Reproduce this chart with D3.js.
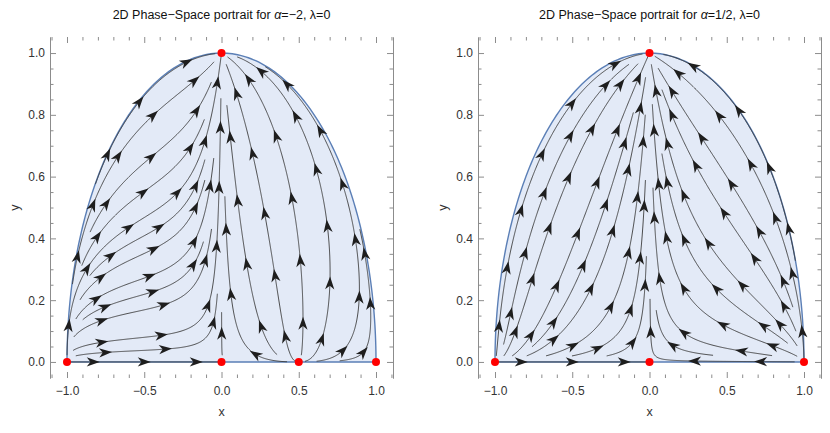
<!DOCTYPE html>
<html>
<head>
<meta charset="utf-8">
<script src="https://cdn.jsdelivr.net/npm/d3@7"></script>
<style>
body { margin: 0; background: #fff; }
text { font-family: "Liberation Sans", Arial, sans-serif; }
</style>
</head>
<body>
<svg id="chart" width="830" height="433"></svg>
<script>
// model parameters for the two panels
var alphas = [-2, 0.5];
var alphaLabels = ["\u22122", "1/2"];
var lambda = 0;

// critical points shown in red
var critPoints = [
    [[-1, 0], [0, 0], [0.5, 0], [1, 0], [0, 1]],
    [[-1, 0], [0, 0], [1, 0], [0, 1]]
];

// invariant axis streamline (y = 0) seed
var axisSeeds = [[[-0.5, 0]], [[-0.5, 0]]];

// ticks
var xMajor = [-1, -0.5, 0, 0.5, 1];
var xMinor = [-1.1, -0.9, -0.8, -0.7, -0.6, -0.4, -0.3, -0.2, -0.1,
              0.1, 0.2, 0.3, 0.4, 0.6, 0.7, 0.8, 0.9, 1.1];
var yMajor = [0, 0.2, 0.4, 0.6, 0.8, 1];
var yMinor = [0.05, 0.1, 0.15, 0.25, 0.3, 0.35, 0.45, 0.5, 0.55,
              0.65, 0.7, 0.75, 0.85, 0.9, 0.95];

var panelLeft = [50, 478],
    panelWidth = 343,
    frameTop = 37,
    frameBottom = 378;

var svg = d3.select("#chart");

// dx/dt, dy/dt :  x' = -3x + x*eps + ..., y' = y*eps - ...
function field(a, x, y) {
    var r = 1 - x * x - y * y;
    var c = lambda * Math.sqrt(1.5);
    var eps = 1.5 * (1 + x * x - y * y) - 1.5 * a * x * r;
    return [-3 * x + x * eps + c * y * y, y * eps - c * x * y];
}

function streamlines(a, sx, sy, seeds) {
    var kx = sx(1) - sx(0), ky = sy(0) - sy(1);
    var dsep = 16, dtest = 6, cell = dsep;
    var grid = {}, lines = [], queue = [];

    function toS(p) { return [sx(p[0]), sy(p[1])]; }
    function blocked(p, d) {
        var s = toS(p), i = Math.floor(s[0] / cell), j = Math.floor(s[1] / cell);
        for (var di = -1; di <= 1; di++) for (var dj = -1; dj <= 1; dj++) {
            var c = grid[(i + di) + "," + (j + dj)];
            if (!c) continue;
            for (var n = 0; n < c.length; n++) {
                var dx = c[n][0] - s[0], dy = c[n][1] - s[1];
                if (dx * dx + dy * dy < d * d) return true;
            }
        }
        return false;
    }
    function add(p) {
        var s = toS(p);
        var k = Math.floor(s[0] / cell) + "," + Math.floor(s[1] / cell);
        (grid[k] || (grid[k] = [])).push(s);
    }
    function inside(p) { return p[0] * p[0] + p[1] * p[1] <= 1.00005 && p[1] >= 0; }
    function dir(p) {
        var f = field(a, p[0], p[1]);
        var sp = Math.hypot(f[0], f[1]);
        if (sp < 2e-3) return null;
        var u = f[0] * kx, v = f[1] * ky, m = Math.hypot(u, v);
        return [u / m / kx, v / m / ky, sp];
    }
    function trace(p0, sgn) {
        var out = [], p = p0, prev = null;
        for (var n = 0; n < 2500; n++) {
            var d1 = dir(p); if (!d1) break;
            var mid = [p[0] + sgn * d1[0] * 0.5, p[1] + sgn * d1[1] * 0.5];
            var d2 = dir(mid); if (!d2) break;
            var q = [p[0] + sgn * d2[0], p[1] + sgn * d2[1]];
            if (!inside(q)) break;
            if (prev && d2[0] * prev[0] * kx * kx + d2[1] * prev[1] * ky * ky < 0.7) break;
            if (blocked(q, dtest)) break;
            out.push(q); prev = d2; p = q;
        }
        return out;
    }
    function tryLine(p, explicit) {
        if (!inside(p)) return;
        if (!explicit && (p[1] < 0.004 || p[0] * p[0] + p[1] * p[1] > 0.998)) return;
        if (!dir(p)) return;
        if (blocked(p, explicit ? dtest : dsep)) return;
        var b = trace(p, -1), f = trace(p, 1);
        var pts = b.reverse().concat([p], f);
        pts.forEach(add);
        lines.push(pts); queue.push(pts);
    }
    function flush() {
        while (queue.length) {
            var L = queue.shift();
            for (var k = 2; k < L.length - 2; k += 3) {
                var a0 = toS(L[k - 2]), a1 = toS(L[k + 2]);
                var tx = a1[0] - a0[0], ty = a1[1] - a0[1], tm = Math.hypot(tx, ty);
                if (!tm) continue;
                var nx = -ty / tm, ny = tx / tm, s = toS(L[k]);
                [-1, 1].forEach(function (sg) {
                    tryLine([sx.invert(s[0] + sg * dsep * nx), sy.invert(s[1] + sg * dsep * ny)], false);
                });
            }
        }
    }

    seeds.forEach(function (s) { tryLine(s, true); });
    tryLine([-0.4, 0.5], false);
    flush();
    for (var py = frameTop; py < frameBottom; py += 4)
        for (var px = sx.range()[0]; px < sx.range()[1]; px += 4) {
            tryLine([sx.invert(px), sy.invert(py)], false);
            flush();
        }
    return lines.filter(function (l) { return l.length > 6; });
}

function arrowPath(x, y, ux, uy, len, w) {
    var nx = -uy, ny = ux;
    var tip = [x + ux * len / 2, y + uy * len / 2];
    var bx = x - ux * len / 2, by = y - uy * len / 2;
    var notch = [bx + ux * len * 0.28, by + uy * len * 0.28];
    return "M" + tip + "L" + [bx + nx * w, by + ny * w] + "L" + notch +
        "L" + [bx - nx * w, by - ny * w] + "Z";
}

alphas.forEach(function (a, idx) {
    var x0 = panelLeft[idx];
    var sx = d3.scaleLinear().domain([-1.11, 1.11]).range([x0, x0 + panelWidth]);
    var sy = d3.scaleLinear().domain([-0.052, 1.052]).range([frameBottom, frameTop]);
    var g = svg.append("g");

    // region x^2 + y^2 <= 1, y >= 0
    var arc = d3.range(0, 181).map(function (t) {
        var r = t * Math.PI / 180;
        return [Math.cos(r), Math.sin(r)];
    });
    g.append("path")
        .datum(arc)
        .attr("d", d3.line().x(function (d) { return sx(d[0]); }).y(function (d) { return sy(d[1]); }).curve(d3.curveLinearClosed))
        .attr("fill", "#e3eaf7")
        .attr("stroke", "#5b7fb6")
        .attr("stroke-width", 1.4);

    // stream lines
    var lines = streamlines(a, sx, sy, axisSeeds[idx]);
    var line = d3.line().x(function (d) { return sx(d[0]); }).y(function (d) { return sy(d[1]); });
    g.append("g").selectAll("path")
        .data(lines)
        .enter().append("path")
        .attr("d", line)
        .attr("fill", "none")
        .attr("stroke", "#3a3a3a")
        .attr("stroke-width", 0.9);

    // arrow heads
    var heads = [];
    lines.forEach(function (l) {
        var s = l.map(function (p) { return [sx(p[0]), sy(p[1])]; });
        var cum = [0];
        for (var i = 1; i < s.length; i++)
            cum.push(cum[i - 1] + Math.hypot(s[i][0] - s[i - 1][0], s[i][1] - s[i - 1][1]));
        var L = cum[cum.length - 1];
        if (L < 14) return;
        var n = Math.max(1, Math.round(L / 58));
        for (var k = 0; k < n; k++) {
            var target = (k + 0.5) * L / n;
            var j = d3.bisectLeft(cum, target);
            var j0 = Math.max(0, j - 3), j1 = Math.min(s.length - 1, j + 3);
            var ux = s[j1][0] - s[j0][0], uy = s[j1][1] - s[j0][1], um = Math.hypot(ux, uy);
            if (!um) continue;
            heads.push({ x: s[j][0], y: s[j][1], ux: ux / um, uy: uy / um });
        }
    });
    g.append("g").selectAll("path")
        .data(heads)
        .enter().append("path")
        .attr("d", function (d) { return arrowPath(d.x, d.y, d.ux, d.uy, 13, 4.6); })
        .attr("fill", "#1e1e1e");

    // critical points
    g.selectAll("circle")
        .data(critPoints[idx])
        .enter().append("circle")
        .attr("cx", function (d) { return sx(d[0]); })
        .attr("cy", function (d) { return sy(d[1]); })
        .attr("r", 4)
        .attr("fill", "#ff0000");

    // frame and ticks
    var fmt = d3.format(".1f");
    function styleAxis(sel, keepDomain) {
        sel.selectAll("line").attr("stroke", "#8c8c8c");
        sel.select(".domain").attr("stroke", keepDomain ? "#8c8c8c" : "none");
        sel.selectAll("text").attr("fill", "#333").attr("font-size", 12)
            .attr("font-family", "'Liberation Sans', Arial, sans-serif");
    }
    var axB = g.append("g").attr("transform", "translate(0," + frameBottom + ")")
        .call(d3.axisBottom(sx).tickValues(xMajor).tickSize(-6).tickSizeOuter(0).tickPadding(8).tickFormat(fmt));
    styleAxis(axB, false);
    var axBm = g.append("g").attr("transform", "translate(0," + frameBottom + ")")
        .call(d3.axisBottom(sx).tickValues(xMinor).tickSize(-3.5).tickSizeOuter(0).tickFormat(""));
    styleAxis(axBm, false);
    var axT = g.append("g").attr("transform", "translate(0," + frameTop + ")")
        .call(d3.axisTop(sx).tickValues(xMajor).tickSize(-6).tickSizeOuter(0).tickFormat(""));
    styleAxis(axT, false);
    var axTm = g.append("g").attr("transform", "translate(0," + frameTop + ")")
        .call(d3.axisTop(sx).tickValues(xMinor).tickSize(-3.5).tickSizeOuter(0).tickFormat(""));
    styleAxis(axTm, false);
    var axL = g.append("g").attr("transform", "translate(" + sx.range()[0] + ",0)")
        .call(d3.axisLeft(sy).tickValues(yMajor).tickSize(-6).tickSizeOuter(0).tickPadding(5).tickFormat(fmt));
    styleAxis(axL, true);
    var axLm = g.append("g").attr("transform", "translate(" + sx.range()[0] + ",0)")
        .call(d3.axisLeft(sy).tickValues(yMinor).tickSize(-3.5).tickSizeOuter(0).tickFormat(""));
    styleAxis(axLm, true);
    var axR = g.append("g").attr("transform", "translate(" + sx.range()[1] + ",0)")
        .call(d3.axisRight(sy).tickValues(yMajor).tickSize(-6).tickSizeOuter(0).tickFormat(""));
    styleAxis(axR, true);
    var axRm = g.append("g").attr("transform", "translate(" + sx.range()[1] + ",0)")
        .call(d3.axisRight(sy).tickValues(yMinor).tickSize(-3.5).tickSizeOuter(0).tickFormat(""));
    styleAxis(axRm, true);

    // axis labels
    var cx = (sx.range()[0] + sx.range()[1]) / 2;
    g.append("text").attr("x", cx).attr("y", 416).attr("text-anchor", "middle")
        .attr("font-size", 12.5).attr("fill", "#333").text("x");
    g.append("text").attr("transform", "translate(" + (sx.range()[0] - 31) + "," + ((frameTop + frameBottom) / 2) + ") rotate(-90)")
        .attr("text-anchor", "middle").attr("font-size", 12.5).attr("fill", "#333").text("y");

    // title
    var title = g.append("text").attr("x", cx).attr("y", 19).attr("text-anchor", "middle")
        .attr("font-size", 12.5).attr("fill", "#111");
    title.append("tspan").text("2D Phase\u2212Space portrait for ");
    title.append("tspan").attr("font-style", "italic").text("\u03b1");
    title.append("tspan").text("=" + alphaLabels[idx] + ", ");
    title.append("tspan").text("\u03bb");
    title.append("tspan").text("=0");
});
</script>
</body>
</html>
